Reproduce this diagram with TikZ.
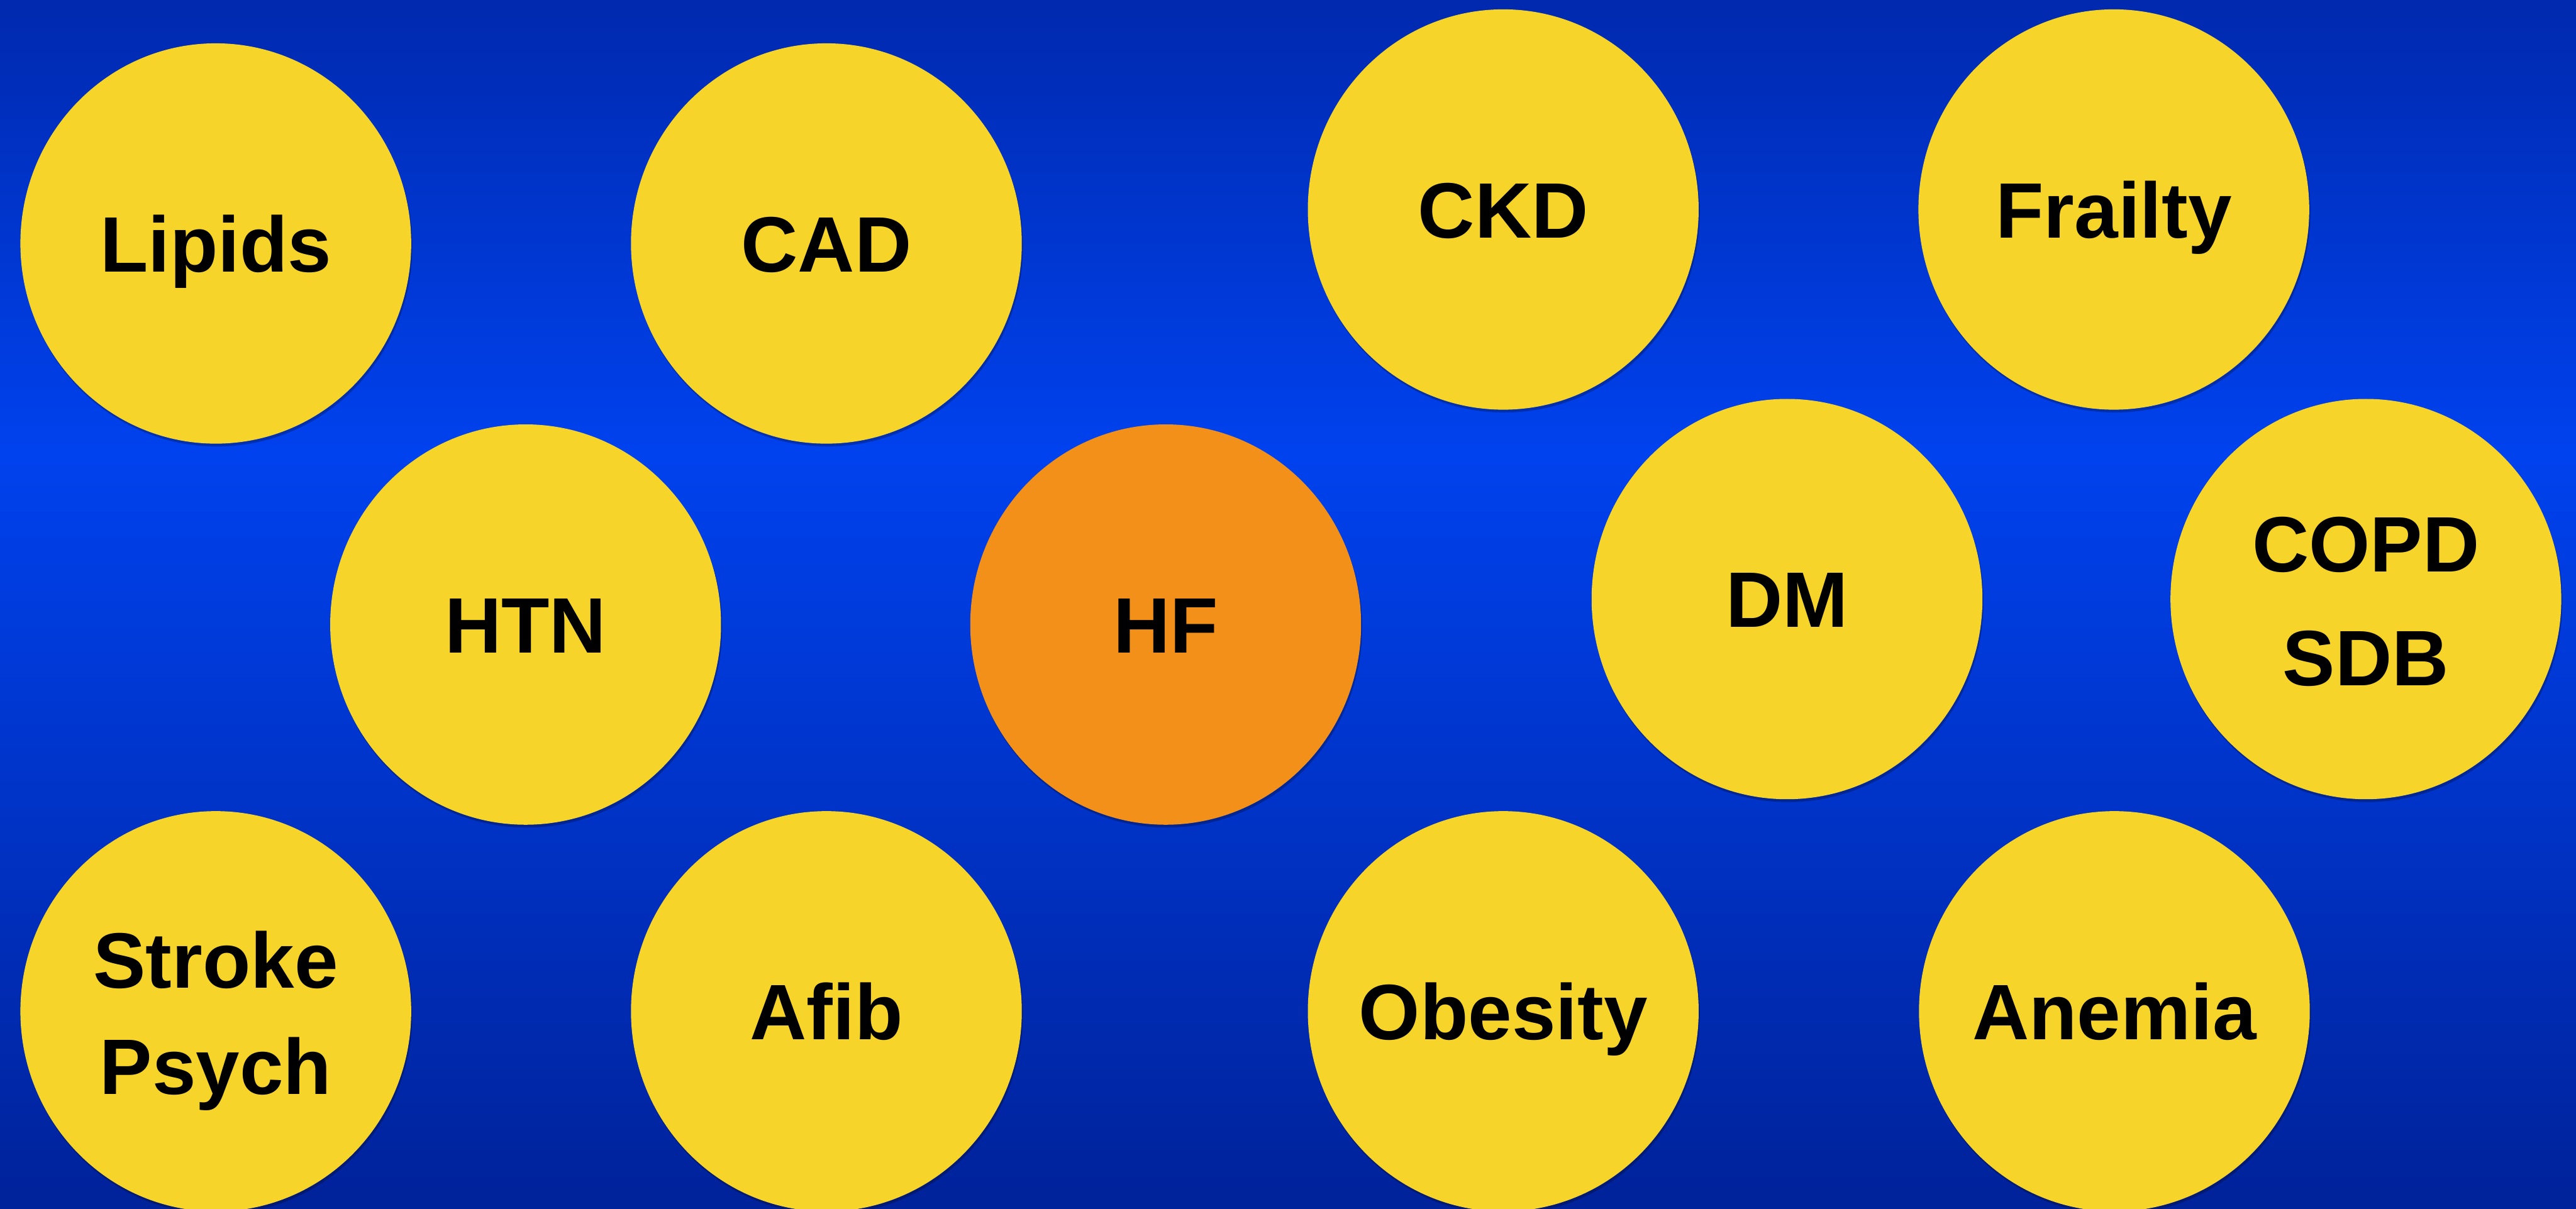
\documentclass[tikz,border=0pt]{standalone}
\usepackage{fontspec}
\setmainfont{Liberation Sans}
\usetikzlibrary{shapes.geometric,shadows}
\definecolor{bgtop}{HTML}{0029AE}
\definecolor{bgmid}{HTML}{0042EE}
\definecolor{bgbot}{HTML}{00229A}
\definecolor{bubbleY}{HTML}{F6D42A}
\definecolor{bubbleO}{HTML}{F2901A}
\begin{document}
\begin{tikzpicture}[
  bubble/.style={ellipse, minimum width=6.9cm, minimum height=7.07cm, inner sep=0pt,
    fill=bubbleY,
    drop shadow={shadow xshift=0.02cm, shadow yshift=-0.05cm, opacity=0.25, fill=black}},
  hot/.style={bubble, fill=bubbleO},
  txt/.style={inner sep=0pt, text height=1.0cm, text depth=0pt,
    font=\fontsize{39.5}{40}\selectfont\bfseries},
  lbl/.style={anchor=base, inner sep=0pt, font=\fontsize{39.5}{40}\selectfont\bfseries}
]
\useasboundingbox (0,0) rectangle (45.48,-21.35);
\fill[bgmid] (0,0) rectangle (45.48,-21.35);
\shade[top color=bgtop, bottom color=bgmid] (0,0) rectangle (45.48,-8.0);
\shade[top color=bgmid, bottom color=bgbot] (0,-7.98) rectangle (45.48,-21.35);

\node[bubble] (lipids)  at (3.81,-4.30)  {};
\node[bubble] (cad)     at (14.59,-4.30) {};
\node[bubble] (ckd)     at (26.54,-3.70) {};
\node[bubble] (frailty) at (37.32,-3.70) {};
\node[bubble] (htn)     at (9.28,-11.03)  {};
\node[hot]    (hf)      at (20.58,-11.03) {};
\node[bubble] (dm)      at (31.55,-10.58) {};
\node[bubble] (copd)    at (41.77,-10.58) {};
\node[bubble] (stroke)  at (3.81,-17.86)  {};
\node[bubble] (afib)    at (14.59,-17.86) {};
\node[bubble] (obesity) at (26.54,-17.86) {};
\node[bubble] (anemia)  at (37.33,-17.86) {};

\node[txt] (lipidsT)  at (lipids.center)  {Lipids};
\node[txt] (cadT)     at (cad.center)     {CAD};
\node[txt] (ckdT)     at (ckd.center)     {CKD};
\node[txt] (frailtyT) at (frailty.center) {Frailty};
\node[txt] (htnT)     at (htn.center)     {HTN};
\node[txt] (hfT)      at (hf.center)      {HF};
\node[txt] (dmT)      at (dm.center)      {DM};
\node[lbl] (copdA) at ([yshift=0.48cm]copd.center)   {COPD};
\node[lbl] (copdB) at ([yshift=-1.53cm]copd.center)  {SDB};
\node[lbl] (strokeA) at ([yshift=0.41cm]stroke.center)  {Stroke};
\node[lbl] (strokeB) at ([yshift=-1.46cm]stroke.center) {Psych};
\node[txt] (afibT)    at (afib.center)    {Afib};
\node[txt] (obesityT) at (obesity.center) {Obesity};
\node[txt] (anemiaT)  at (anemia.center)  {Anemia};
\end{tikzpicture}
\end{document}
